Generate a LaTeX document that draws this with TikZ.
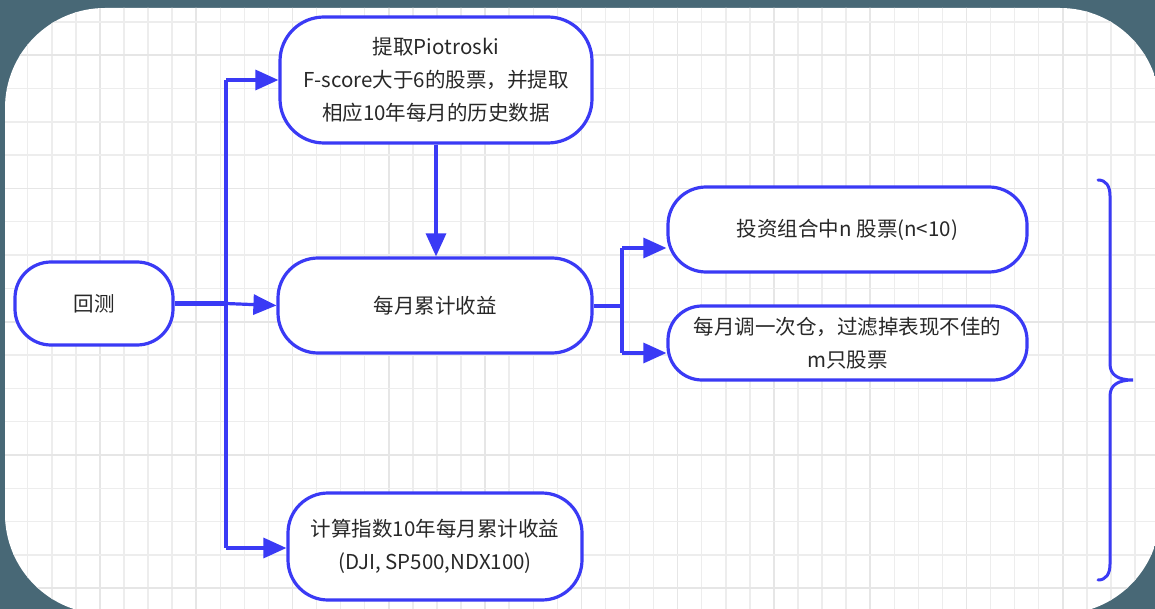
\documentclass[tikz,border=0pt]{standalone}
\usepackage{fontspec}
\setmainfont{Noto Sans CJK SC}
\usetikzlibrary{arrows.meta,calc}
\definecolor{slate}{RGB}{72,104,118}
\definecolor{fblue}{RGB}{58,58,245}
\definecolor{gminor}{RGB}{237,237,237}
\definecolor{gmajor}{RGB}{230,230,230}
\definecolor{txt}{RGB}{40,40,40}
\tikzset{
  box/.style={draw=fblue, line width=3.2pt, fill=white, rounded corners=#1,
    text=txt, align=center, inner sep=0pt, font=\fontsize{20.5}{33}\selectfont},
  box/.default=36pt,
  conn/.style={draw=fblue, line width=3.2pt},
  arr/.style={conn, -{Triangle[length=23pt,width=20pt]}},
}
\begin{document}
\begin{tikzpicture}[x=1pt,y=-1pt]
\useasboundingbox (0,0) rectangle (1155,609);
\fill[slate] (0,0) rectangle (1155,609);
\begin{scope}
\clip[rounded corners=100pt] (5,8) rectangle (1160,614);
\fill[white] (0,0) rectangle (1160,614);
\foreach \k in {0,...,48} {
  \pgfmathsetmacro{\xx}{3.7+24.07*\k}
  \pgfmathtruncatemacro{\mm}{mod(\k,4)}
  \ifnum\mm=0 \draw[gmajor,line width=1.6pt] (\xx,0) -- (\xx,614);
  \else \draw[gminor,line width=1.4pt] (\xx,0) -- (\xx,614); \fi
}
\foreach \k in {0,...,19} {
  \pgfmathsetmacro{\yy}{-11.3+33.3*\k}
  \pgfmathtruncatemacro{\mm}{mod(\k,4)}
  \ifnum\mm=2 \draw[gmajor,line width=1.6pt] (0,\yy) -- (1160,\yy);
  \else \draw[gminor,line width=1.4pt] (0,\yy) -- (1160,\yy); \fi
}
\end{scope}

% nodes
\node[box=36pt, minimum width=158pt, minimum height=83pt] (ht) at (94,303.5) {回测};
\node[box=44pt, minimum width=312pt, minimum height=126pt] (top) at (436,80)
  {提取Piotroski\\F-score大于6的股票，并提取\\相应10年每月的历史数据};
\node[box=40pt, minimum width=314pt, minimum height=95pt] (mid) at (435,305.5) {每月累计收益};
\node[box=38pt, minimum width=359pt, minimum height=85pt] (n4) at (847.5,229.5) {投资组合中n 股票(n<10)};
\node[box=34pt, minimum width=359pt, minimum height=74pt] (n5) at (847.5,343)
  {每月调一次仓，过滤掉表现不佳的\\m只股票};
\node[box=40pt, minimum width=294pt, minimum height=107pt] (bot) at (435,546.5)
  {计算指数10年每月累计收益\\(DJI, SP500,NDX100)};

% junction points
\coordinate (j1) at (226,303.5);
\coordinate (j2) at (622,306);

% connectors
\draw[conn, line width=4.5pt] (ht.east) -- (j1);
\draw[conn] (226,302) -- (226,80);
\draw[conn] (226,305) -- (226,548);
\draw[arr] (226,80) -- (top.west);
\draw[arr] (j1) -- (mid.west);
\draw[arr] (226,548) -- (bot.west |- 0,548);
\draw[arr] (top.south) -- (mid.north -| top.south);
\draw[conn] (mid.east |- j2) -- (j2);
\draw[conn] (622,248) -- (622,353);
\draw[arr] (622,248) -- (n4.west |- 0,248);
\draw[arr] (622,353) -- (n5.west |- 0,353);

% brace
\draw[fblue, line width=3pt, line cap=round]
  (1098,180) .. controls (1106,180) and (1110,186) .. (1110,196)
  -- (1110,364) .. controls (1110,375) and (1118,380) .. (1133,380)
  .. controls (1118,380) and (1110,385) .. (1110,396)
  -- (1110,564) .. controls (1110,574) and (1106,580) .. (1098,580);
\end{tikzpicture}
\end{document}
